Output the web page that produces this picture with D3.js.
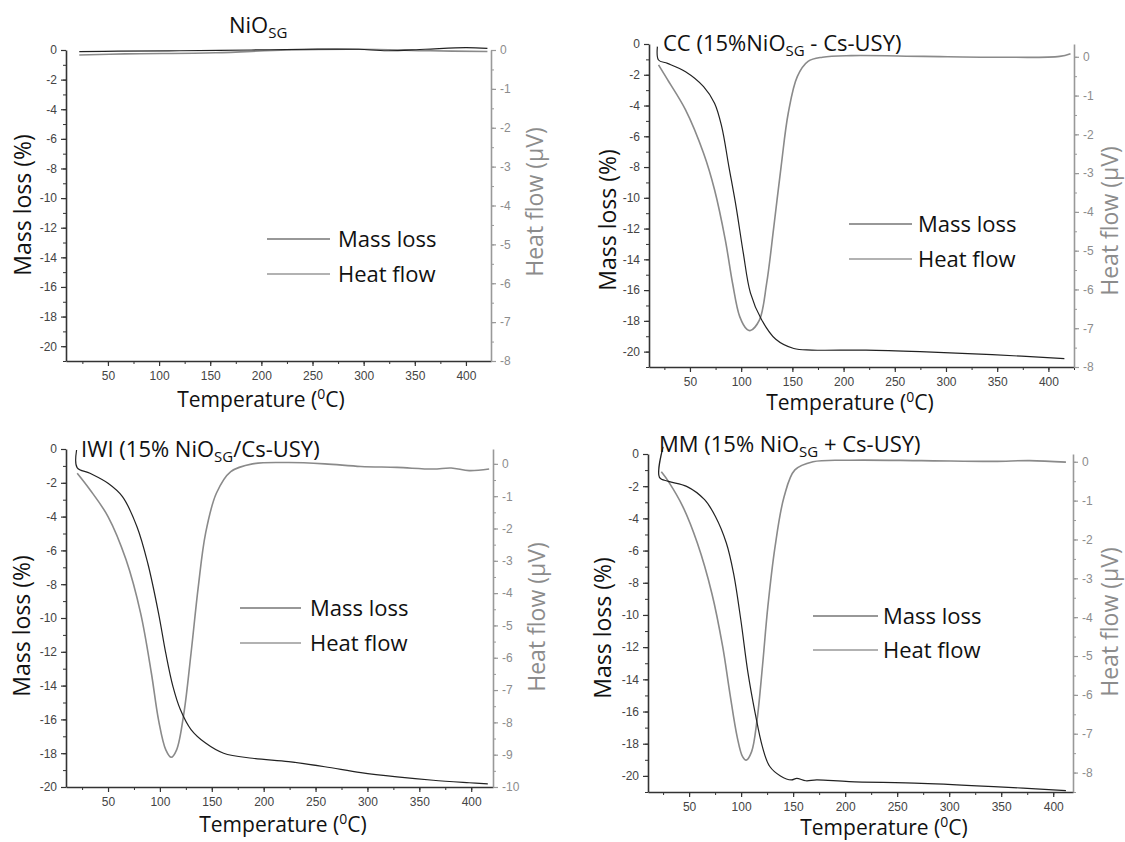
<!DOCTYPE html>
<html>
<head>
<meta charset="utf-8">
<script src="https://cdn.jsdelivr.net/npm/d3@7"></script>
<style>
  body { margin: 0; background: #fff; }
  svg { display: block; }
  .tick text { font-family: "Liberation Sans", Arial, sans-serif; }
  .lbl { font-family: "Open Sans", sans-serif; }
</style>
</head>
<body>
<script>
// data: [temperature (C), value]
var nioMass = [[22, -0.11], [60, -0.08], [120, -0.05], [190, 0.0], [255, 0.06], [295, 0.05], [323, -0.05], [360, 0.05], [400, 0.16], [421, 0.11]]
var nioHeat = [[22, -0.13], [67, -0.1], [155, -0.07], [225, 0.0], [295, 0.02], [365, -0.02], [421, -0.04]]

var ccMass = [[18.2, -0.17], [19.3, -1.04], [28.1, -1.26], [45.7, -1.8], [63.3, -2.77], [74, -3.85], [81, -5.37], [88, -7.97],
  [95.1, -10.6], [102.1, -13.6], [109.1, -16.2], [119.7, -17.9], [133.8, -19.2], [151.4, -19.8], [169.1, -19.9],
  [221.9, -19.9], [274.7, -20.0], [345.1, -20.2], [415.6, -20.45]]
var ccHeat = [[19.3, -0.21], [28.1, -0.59], [45.7, -1.37], [63.3, -2.49], [74, -3.43], [84.5, -4.72], [91.6, -5.84],
  [98.6, -6.7], [105.7, -7.03], [109, -7.06], [117.8, -6.79], [124.9, -5.84], [131.9, -4.38], [139, -2.83],
  [146, -1.45], [154.8, -0.51], [165.3, -0.12], [179.4, -0.01], [207.6, 0.03], [278, 0.01], [348.5, -0.01],
  [411, 0.01], [421.6, 0.08]]

var iwiMass = [[19.7, -0.06], [20.2, -1.1], [32.6, -1.44], [50, -2.03], [63.9, -2.82], [77.9, -4.6], [88.3, -6.76],
  [98.7, -9.72], [105.7, -12.1], [112.6, -14.06], [119.6, -15.4], [130, -16.6], [144, -17.4], [161.4, -18.0],
  [189.2, -18.3], [224, -18.5], [258.9, -18.8], [293.7, -19.15], [328.5, -19.4], [363.3, -19.6], [398.1, -19.75],
  [416, -19.82]]
var iwiHeat = [[20.3, -0.29], [32.6, -0.8], [50, -1.63], [67.4, -2.97], [81.4, -4.62], [91.8, -6.48], [98.7, -7.93],
  [105.7, -8.85], [110.9, -9.08], [116.1, -8.85], [123.1, -7.72], [130, -5.86], [137, -3.8], [144, -2.15],
  [154.4, -0.91], [168.3, -0.24], [189.2, 0.0], [224, 0.04], [258.9, 0.0], [293.7, -0.08], [328.5, -0.11],
  [363.3, -0.16], [380.7, -0.13], [398.1, -0.21], [417.3, -0.16]]

var mmMass = [[25, 0.45], [21.5, -1.45], [30.2, -1.7], [47.6, -2.01], [64.9, -2.84], [75.3, -3.88], [85.8, -5.53],
  [92.7, -7.4], [99.7, -10.3], [106.6, -13.6], [113.5, -16.1], [120.5, -18.2], [127.4, -19.4], [137.8, -20.0],
  [148.3, -20.25], [153.5, -20.15], [162.2, -20.3], [172.6, -20.25], [203.8, -20.35], [273.3, -20.46],
  [342.7, -20.66], [412.2, -20.91]]
var mmHeat = [[23.3, -0.26], [30.2, -0.51], [44.1, -1.16], [58, -2.1], [71.9, -3.39], [82.3, -4.76], [89.2, -5.96],
  [96.2, -7.08], [101.4, -7.59], [104.9, -7.68], [110.1, -7.46], [115.3, -6.65], [120.5, -5.27], [125.7, -3.73],
  [132.6, -2.19], [141.3, -0.9], [151.7, -0.21], [169.1, 0.0], [203.8, 0.04], [273.3, 0.03], [342.7, 0.01],
  [377.4, 0.03], [412.2, -0.01]]

var xTicks = [50, 100, 150, 200, 250, 300, 350, 400]
var massTicks = [0, -2, -4, -6, -8, -10, -12, -14, -16, -18, -20]
var legendNames = ["Mass loss", "Heat flow"]

var panels = [
  { title: ["NiO", "SG", ""], tx: 229, ty: 33, mass: nioMass, heat: nioHeat,
    x0: 66, x1: 491, top: 50, bottom: 361, xDom: [9, 424.5], lDom: [-21, 0], rDom: [-8, 0],
    xl: [261, 407], yl: [31, 205], rl: [543, 202], leg: [267, 330, 239, 274, 338] },
  { title: ["CC (15%NiO", "SG", " - Cs-USY)"], tx: 663, ty: 51, mass: ccMass, heat: ccHeat,
    x0: 649, x1: 1074, top: 44, bottom: 367, xDom: [10, 425], lDom: [-21, 0], rDom: [-8, 0.33],
    xl: [850, 410], yl: [616, 220], rl: [1118, 221], leg: [849, 912, 224, 259, 918] },
  { title: ["IWI (15% NiO", "SG", "/Cs-USY)"], tx: 81, ty: 457, mass: iwiMass, heat: iwiHeat,
    x0: 66, x1: 493, top: 449, bottom: 787, xDom: [9.5, 421], lDom: [-20, 0], rDom: [-10, 0.46],
    xl: [283, 832], yl: [30, 626], rl: [545, 617], leg: [240, 301, 608, 643, 310] },
  { title: ["MM (15% NiO", "SG", " + Cs-USY)"], tx: 659, ty: 452, mass: mmMass, heat: mmHeat,
    x0: 648, x1: 1073, top: 454, bottom: 792, xDom: [10.5, 419], lDom: [-21, 0], rDom: [-8.5, 0.2],
    xl: [884, 835], yl: [611, 628], rl: [1118, 622], leg: [813, 878, 616, 650, 883] }
]

var svg = d3.select("body").append("svg")
  .attr("width", 1125)
  .attr("height", 842)

var dark = "#333", grey = "#999"

function minor(dom, step) {
  var out = []
  for (var v = Math.ceil(dom[0] / step) * step; v <= dom[1] + 1e-9; v += step) out.push(+v.toFixed(3))
  return out
}

panels.forEach(function (p) {
  var g = svg.append("g")
  var x = d3.scaleLinear().domain(p.xDom).range([p.x0, p.x1])
  var yL = d3.scaleLinear().domain(p.lDom).range([p.bottom, p.top])
  var yR = d3.scaleLinear().domain(p.rDom).range([p.bottom, p.top])

  // minor ticks first
  g.append("g").attr("transform", "translate(0," + p.bottom + ")")
    .call(d3.axisBottom(x).tickValues(minor(p.xDom, 25)).tickSize(3).tickSizeOuter(0).tickFormat(""))
    .call(s => s.select(".domain").remove()).selectAll("line").attr("stroke", dark)
  g.append("g").attr("transform", "translate(" + p.x0 + ",0)")
    .call(d3.axisLeft(yL).tickValues(minor(p.lDom, 1)).tickSize(3).tickSizeOuter(0).tickFormat(""))
    .call(s => s.select(".domain").remove()).selectAll("line").attr("stroke", dark)
  g.append("g").attr("transform", "translate(" + p.x1 + ",0)")
    .call(d3.axisRight(yR).tickValues(minor(p.rDom, 0.5)).tickSize(3).tickSizeOuter(0).tickFormat(""))
    .call(s => s.select(".domain").remove()).selectAll("line").attr("stroke", grey)

  // major axes
  var ax = g.append("g").attr("transform", "translate(0," + p.bottom + ")")
    .call(d3.axisBottom(x).tickValues(xTicks).tickSize(5).tickSizeOuter(0).tickPadding(5))
  var al = g.append("g").attr("transform", "translate(" + p.x0 + ",0)")
    .call(d3.axisLeft(yL).tickValues(massTicks).tickSize(5).tickSizeOuter(0).tickPadding(4).tickFormat(d => String(d)))
  var rTicks = d3.range(0, Math.ceil(p.rDom[0]) - 1, -1)
  var ar = g.append("g").attr("transform", "translate(" + p.x1 + ",0)")
    .call(d3.axisRight(yR).tickValues(rTicks).tickSize(5).tickSizeOuter(0).tickPadding(4).tickFormat(d => String(d)))

  ;[ax, al].forEach(function (a) {
    a.select(".domain").attr("stroke", dark).attr("stroke-width", 1.6)
    a.selectAll("line").attr("stroke", dark).attr("stroke-width", 1.2)
    a.selectAll("text").attr("fill", "#444").attr("font-size", 12)
  })
  ar.select(".domain").attr("stroke", grey).attr("stroke-width", 1.6)
  ar.selectAll("line").attr("stroke", grey).attr("stroke-width", 1.2)
  ar.selectAll("text").attr("fill", "#8c8c8c").attr("font-size", 12)

  // curves
  var lineL = d3.line().x(d => x(d[0])).y(d => yL(d[1])).curve(d3.curveCatmullRom.alpha(0.5))
  var lineR = d3.line().x(d => x(d[0])).y(d => yR(d[1])).curve(d3.curveCatmullRom.alpha(0.5))
  g.append("path").datum(p.heat).attr("d", lineR)
    .attr("fill", "none").attr("stroke", "#8a8a8a").attr("stroke-width", 1.6)
  g.append("path").datum(p.mass).attr("d", lineL)
    .attr("fill", "none").attr("stroke", "#222").attr("stroke-width", 1.2)

  // title with subscript
  var t = g.append("text").attr("class", "lbl").attr("x", p.tx).attr("y", p.ty)
    .attr("font-size", 22).attr("fill", "#111")
  t.append("tspan").text(p.title[0])
  t.append("tspan").attr("dy", 5).attr("font-size", 15).text(p.title[1])
  t.append("tspan").attr("dy", -5).text(p.title[2])

  // x label with superscript 0
  var xt = g.append("text").attr("class", "lbl").attr("x", p.xl[0]).attr("y", p.xl[1])
    .attr("text-anchor", "middle").attr("font-size", 21).attr("fill", "#111")
  xt.append("tspan").text("Temperature (")
  xt.append("tspan").attr("dy", -8).attr("font-size", 14).text("0")
  xt.append("tspan").attr("dy", 8).text("C)")

  g.append("text").attr("class", "lbl")
    .attr("transform", "translate(" + p.yl[0] + "," + p.yl[1] + ") rotate(-90)")
    .attr("text-anchor", "middle").attr("font-size", 23).attr("fill", "#111")
    .text("Mass loss (%)")
  g.append("text").attr("class", "lbl")
    .attr("transform", "translate(" + p.rl[0] + "," + p.rl[1] + ") rotate(-90)")
    .attr("text-anchor", "middle").attr("font-size", 23).attr("fill", "#8c8c8c")
    .text("Heat flow (\u00b5V)")

  // legend
  var L = p.leg
  ;[[L[2], "#333", 1.2], [L[3], "#999", 1.6]].forEach(function (row, i) {
    g.append("line").attr("x1", L[0]).attr("x2", L[1]).attr("y1", row[0]).attr("y2", row[0])
      .attr("stroke", row[1]).attr("stroke-width", row[2])
    g.append("text").attr("class", "lbl").attr("x", L[4]).attr("y", row[0]).attr("dy", "0.36em")
      .attr("font-size", 22).attr("fill", "#111").text(legendNames[i])
  })
})
</script>
</body>
</html>
